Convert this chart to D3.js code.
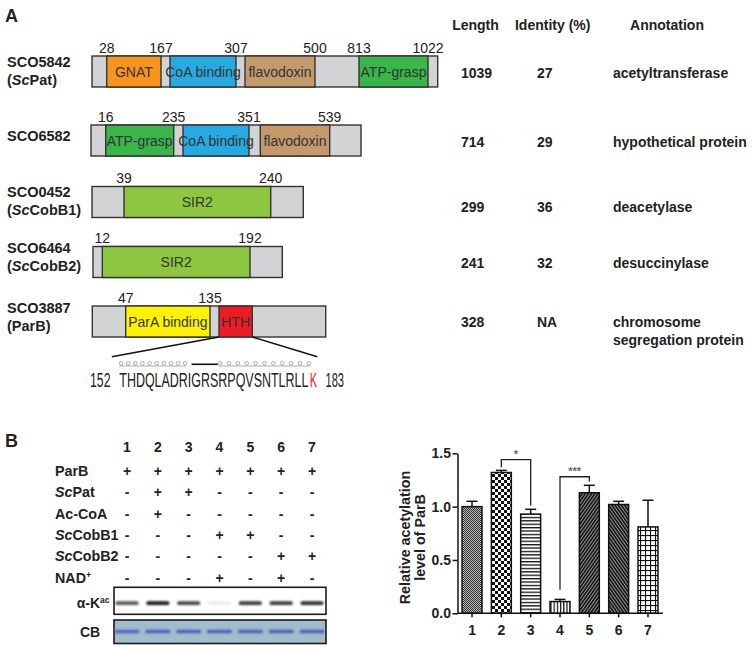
<!DOCTYPE html>
<html><head><meta charset="utf-8">
<script src="https://cdn.jsdelivr.net/npm/d3@7"></script>
<style>
body{margin:0;background:#fff;}
svg{display:block;font-family:Arial,"Liberation Sans",Helvetica,sans-serif;}
</style>
</head><body><svg id="c" width="756" height="647"></svg>
<script>
// ================= DATA =================
// Panel A – domain architecture
const proteinIds = ["SCO5842","SCO6582","SCO0452","SCO6464","SCO3887"];
const proteinAliases = ["ScPat", null, "ScCobB1", "ScCobB2", "ParB"];
const proteinLengths = [1039, 714, 299, 241, 328];
const proteinIdentity = ["27", "29", "36", "32", "NA"];
const proteinAnnotations = [["acetyltransferase"], ["hypothetical protein"], ["deacetylase"], ["desuccinylase"], ["chromosome", "segregation protein"]];
const domainNames  = [["GNAT","CoA binding","flavodoxin","ATP-grasp"], ["ATP-grasp","CoA binding","flavodoxin"], ["SIR2"], ["SIR2"], ["ParA binding","HTH"]];
const domainStarts = [[28,180,325,813], [16,250,368], [39], [12], [47,145]];
const domainEnds   = [[167,307,500,1022], [235,351,539], [240], [192], [135,190]];
const positionLabels = [[28,167,307,500,813,1022], [16,235,351,539], [39,240], [12,192], [47,135]];
const tableHeaders = ["Length", "Identity (%)", "Annotation"];
// HTH sequence of ParB
const seqFrom = 152, seqTo = 183;
const hthSequence = "THDQLADRIGRSRPQVSNTLRLLK";
const acetylatedResidue = 23;           // index of the red K
const helix1 = [0, 8], turn1 = [9, 11], helix2 = [12, 23];
const helix1Circles = 10, helix2Circles = 11;

// Panel B – in vitro assay
const laneLabels = ["1","2","3","4","5","6","7"];
const conditionNames = ["ParB","ScPat","Ac-CoA","ScCobB1","ScCobB2","NAD+"];
const conditionMatrix = [
  "+++++++",
  "-++----",
  "-+-----",
  "---++--",
  "-----++",
  "---+-+-"
];
const blotIntensity = [0.72, 1.0, 0.8, 0.07, 0.85, 0.85, 0.9];
const cbIntensity   = [0.8, 0.85, 0.85, 0.85, 0.85, 0.85, 0.85];
const barValues = [1.00, 1.32, 0.93, 0.11, 1.13, 1.02, 0.81];
const barErrors = [0.05, 0.02, 0.045, 0.02, 0.07, 0.03, 0.25];
const yTicks = [0, 0.5, 1.0, 1.5];
const yTickLabels = ["0.0","0.5","1.0","1.5"];
const sigFrom = [1, 3], sigTo = [2, 4], sigLabels = ["*","***"];
const sigTop = [1.44, 1.28], sigLegFrom = [1.37, 0.22], sigLegTo = [1.01, 1.235];

// ================= STYLE / LAYOUT =================
const domainColors = {"GNAT":"#f7941d","CoA binding":"#27aae1","flavodoxin":"#c49a6c","ATP-grasp":"#39b54a","SIR2":"#8dc63f","ParA binding":"#fff200","HTH":"#ed1c24"};
const greyFill = "#d1d3d4", boxStroke = "#333";
const boxTop = [56, 125, 186.5, 246.5, 306], boxH = 31;
const labelMid = [71, 136, 201, 257.5, 317.5];
const rightMid = [73.3, 141.7, 206.7, 263.3, 321.7];
// schematic (not-to-scale) pixel stops for each protein, matched to sorted aa breakpoints
const schematicPx = [
  [92,106.7,161,170,236,245,315,359,428,437.7],
  [91,105.7,173.7,183,249,260.3,329.7,361],
  [92,124,270.7,303.3],
  [93,102.3,250,282.3],
  [92.3,125.7,210,219,252.3,325.7]
];

const svg = d3.select("#c");
const defs = svg.append("defs");
defs.append("filter").attr("id","blur").attr("x","-50%").attr("y","-200%").attr("width","200%").attr("height","500%")
  .append("feGaussianBlur").attr("stdDeviation","1.3 0.9");

const txt = (g, x, y, s, size, weight, anchor) => g.append("text").attr("x", x).attr("y", y)
  .attr("font-size", size).attr("font-weight", weight || "normal").attr("text-anchor", anchor || "start")
  .attr("fill", "#222").text(s);

// condensed text: scale horizontally to a target width
function narrowText(g, x, y, s, width, color) {
  const t = g.append("text").attr("x", 0).attr("y", 0).attr("font-size", 20.5).attr("fill", color || "#222").text(s);
  const w = t.node().getComputedTextLength();
  t.attr("transform", `translate(${x},${y}) scale(${width / w},1)`);
  return t;
}

// ---------- Panel letters ----------
txt(svg, 5, 21.5, "A", 18, "bold");
txt(svg, 5, 446.5, "B", 18, "bold");

// ---------- Panel A ----------
const gA = svg.append("g");
txt(gA, 475.5, 30, tableHeaders[0], 14, "bold", "middle");
txt(gA, 552.7, 30, tableHeaders[1], 14, "bold", "middle");
txt(gA, 667, 30, tableHeaders[2], 14, "bold", "middle");

function addAlias(t, alias) {
  if (alias.startsWith("Sc")) {
    t.append("tspan").text("(");
    t.append("tspan").attr("font-style","italic").text("Sc");
    t.append("tspan").text(alias.slice(2) + ")");
  } else t.text("(" + alias + ")");
}

proteinIds.forEach((id, i) => {
  const g = gA.append("g");
  if (proteinAliases[i]) {
    txt(g, 7, labelMid[i] - 4.5, id, 14.5, "bold");
    const t = g.append("text").attr("x", 7).attr("y", labelMid[i] + 13.8)
      .attr("font-size", 14.5).attr("font-weight", "bold").attr("fill", "#222");
    addAlias(t, proteinAliases[i]);
  } else {
    txt(g, 7, labelMid[i] + 5, id, 14.5, "bold");
  }
  const stops = [0];
  domainStarts[i].forEach((s, k) => { stops.push(s, domainEnds[i][k]); });
  stops.push(proteinLengths[i]);
  const xs = d3.scaleLinear().domain(stops).range(schematicPx[i]);
  const y0 = boxTop[i];
  g.append("rect").attr("x", xs(0)).attr("y", y0).attr("width", xs(proteinLengths[i]) - xs(0)).attr("height", boxH)
    .attr("fill", greyFill).attr("stroke", boxStroke).attr("stroke-width", 1.4);
  domainNames[i].forEach((name, k) => {
    const a = xs(domainStarts[i][k]), b = xs(domainEnds[i][k]);
    g.append("rect").attr("x", a).attr("y", y0).attr("width", b - a).attr("height", boxH)
      .attr("fill", domainColors[name]).attr("stroke", boxStroke).attr("stroke-width", 1.4);
  });
  domainNames[i].forEach((name, k) => {
    const a = xs(domainStarts[i][k]), b = xs(domainEnds[i][k]);
    g.append("text").attr("x", (a + b) / 2).attr("y", y0 + boxH / 2 + 5).attr("text-anchor", "middle")
      .attr("font-size", 14).attr("fill", "#333").text(name);
  });
  positionLabels[i].forEach(p => {
    g.append("text").attr("x", xs(p)).attr("y", y0 - 3.5).attr("text-anchor", "middle")
      .attr("font-size", 14).attr("fill", "#222").text(p);
  });
  txt(g, 461, rightMid[i] + 5, String(proteinLengths[i]), 14, "bold");
  txt(g, 537, rightMid[i] + 5, proteinIdentity[i], 14, "bold");
  proteinAnnotations[i].forEach((line, k) => txt(g, 613, rightMid[i] + 5 + k * 18.3, line, 14, "bold"));

  if (i === 4) {
    const seqX = d3.scaleBand().domain(d3.range(hthSequence.length)).range([119.3, 317.3]);
    const hIdx = domainNames[i].indexOf("HTH");
    const hA = xs(domainStarts[i][hIdx]), hB = xs(domainEnds[i][hIdx]);
    const yb = y0 + boxH;
    g.append("line").attr("x1", hA).attr("y1", yb).attr("x2", seqX(0) - 7.5).attr("y2", 356.7).attr("stroke", "#111").attr("stroke-width", 1.5);
    g.append("line").attr("x1", hB).attr("y1", yb).attr("x2", seqX(hthSequence.length - 1) + seqX.bandwidth()).attr("y2", 356.7).attr("stroke", "#111").attr("stroke-width", 1.5);
    const helix = (range, n) => {
      const a = seqX(range[0]), b = seqX(range[1]) + seqX.bandwidth() - 8;
      g.append("line").attr("x1", a).attr("x2", b + 1).attr("y1", 366).attr("y2", 366).attr("stroke", "#999").attr("stroke-width", 0.8);
      const cx = d3.scalePoint().domain(d3.range(n)).range([a + 1.8, b - 0.5]);
      d3.range(n).forEach(j => g.append("circle").attr("cx", cx(j)).attr("cy", 363.3).attr("r", 1.8)
        .attr("fill", "none").attr("stroke", "#888").attr("stroke-width", 0.7));
    };
    helix(helix1, helix1Circles);
    helix(helix2, helix2Circles);
    g.append("line").attr("x1", seqX(turn1[0]) - 2).attr("x2", seqX(turn1[1]) + seqX.bandwidth() - 0.5)
      .attr("y1", 364.3).attr("y2", 364.3).attr("stroke", "#111").attr("stroke-width", 1.6);
    const plain = hthSequence.slice(0, acetylatedResidue);
    narrowText(g, seqX(0), 387, plain, seqX(acetylatedResidue) - seqX(0) - 0.5);
    narrowText(g, seqX(acetylatedResidue) + 0.6, 387, hthSequence[acetylatedResidue], seqX.bandwidth() - 0.8, "#ed1c24");
    narrowText(g, 90, 387, String(seqFrom), 20.5);
    narrowText(g, 325.5, 387, String(seqTo), 18.5);
  }
});

// ---------- Panel B: condition table ----------
const gB = svg.append("g");
const lane = d3.scalePoint().domain(laneLabels).range([127, 312]);
const row = d3.scalePoint().domain(conditionNames).range([470.7, 577.7]);
laneLabels.forEach(l => txt(gB, lane(l), 452, l, 14, "bold", "middle"));
conditionNames.forEach((c, r) => {
  const t = gB.append("text").attr("x", 55).attr("y", row(c) + 5).attr("font-size", 14.3)
    .attr("font-weight", "bold").attr("fill", "#222");
  if (c.startsWith("Sc")) {
    t.append("tspan").attr("font-style", "italic").text("Sc");
    t.append("tspan").text(c.slice(2));
  } else if (c.endsWith("+")) {
    t.append("tspan").text(c.slice(0, -1));
    t.append("tspan").attr("font-size", 9).attr("dy", -5).text("+");
  } else t.text(c);
  laneLabels.forEach((l, j) => {
    const s = conditionMatrix[r][j];
    txt(gB, lane(l), row(c) + 5, s, 14, "bold", "middle");
  });
});

const blotX = 114, blotW = 212;
gB.append("rect").attr("x", blotX).attr("y", 587.3).attr("width", blotW).attr("height", 27)
  .attr("fill", "#fff").attr("stroke", "#1a1a1a").attr("stroke-width", 1.6);
laneLabels.forEach((l, j) => {
  gB.append("rect").attr("x", lane(l) - 11.5).attr("y", 601.2).attr("width", 23).attr("height", 3.8)
    .attr("rx", 1.5).attr("fill", "#151515").attr("opacity", blotIntensity[j]).attr("filter", "url(#blur)");
});
const ka = gB.append("text").attr("x", 76.7).attr("y", 607.5).attr("font-size", 14).attr("font-weight", "bold").attr("fill", "#222");
ka.append("tspan").text("α-K");
ka.append("tspan").attr("font-size", 8.5).attr("dy", -5).text("ac");
gB.append("rect").attr("x", blotX).attr("y", 620).attr("width", blotW).attr("height", 23.5)
  .attr("fill", "#a3bccb").attr("stroke", "#1a1a1a").attr("stroke-width", 1.6);
laneLabels.forEach((l, j) => {
  gB.append("rect").attr("x", lane(l) - 12.5).attr("y", 629.8).attr("width", 25).attr("height", 3.4)
    .attr("rx", 1.5).attr("fill", "#3a4fc2").attr("opacity", cbIntensity[j]).attr("filter", "url(#blur)");
});
txt(gB, 80, 637, "CB", 14, "bold");

// ---------- Panel B: bar chart ----------
function pat(id, w, h, build, transform) {
  const p = defs.append("pattern").attr("id", id).attr("patternUnits", "userSpaceOnUse").attr("width", w).attr("height", h);
  if (transform) p.attr("patternTransform", transform);
  p.append("rect").attr("width", w).attr("height", h).attr("fill", "#fff");
  build(p);
}
pat("p1", 2, 2, p => { p.append("rect").attr("width", 1).attr("height", 1).attr("fill", "#333"); p.append("rect").attr("x", 1).attr("y", 1).attr("width", 1).attr("height", 1).attr("fill", "#333"); p.select("rect").attr("fill", "#bbb"); p.append("rect").attr("width", 1).attr("height", 1).attr("fill", "#333"); });
pat("p2", 6, 6, p => { p.append("rect").attr("width", 3).attr("height", 3).attr("fill", "#111"); p.append("rect").attr("x", 3).attr("y", 3).attr("width", 3).attr("height", 3).attr("fill", "#111"); });
pat("p3", 4, 3.4, p => p.append("rect").attr("width", 4).attr("height", 1.3).attr("fill", "#111"));
pat("p4", 3.2, 4, p => p.append("rect").attr("width", 1.2).attr("height", 4).attr("fill", "#111"));
pat("p5", 2.6, 4, p => { p.select("rect").attr("fill", "#bbb"); p.append("rect").attr("width", 1.9).attr("height", 4).attr("fill", "#1a1a1a"); }, "rotate(35)");
pat("p6", 2.6, 4, p => { p.select("rect").attr("fill", "#bbb"); p.append("rect").attr("width", 1.9).attr("height", 4).attr("fill", "#1a1a1a"); }, "rotate(-35)");
pat("p7", 5, 5, p => { p.append("rect").attr("width", 5).attr("height", 1.1).attr("fill", "#111"); p.append("rect").attr("width", 1.1).attr("height", 5).attr("fill", "#111"); });
const barPatterns = ["p1","p2","p3","p4","p5","p6","p7"];

const gC = svg.append("g");
const xb = d3.scaleBand().domain(d3.range(barValues.length)).range([457.5, 662.5]).paddingInner(0.32).paddingOuter(0.155);
const yb = d3.scaleLinear().domain([0, 1.5]).range([613.3, 453.3]);

barValues.forEach((v, i) => {
  gC.append("rect").attr("x", xb(i)).attr("y", yb(v)).attr("width", xb.bandwidth()).attr("height", yb(0) - yb(v))
    .attr("fill", `url(#${barPatterns[i]})`).attr("stroke", "#111").attr("stroke-width", 1.5);
  const cx = xb(i) + xb.bandwidth() / 2;
  gC.append("line").attr("x1", cx).attr("x2", cx).attr("y1", yb(v)).attr("y2", yb(v + barErrors[i])).attr("stroke", "#111").attr("stroke-width", 1.5);
  gC.append("line").attr("x1", cx - 5.5).attr("x2", cx + 5.5).attr("y1", yb(v + barErrors[i])).attr("y2", yb(v + barErrors[i])).attr("stroke", "#111").attr("stroke-width", 1.5);
});

const yAxis = gC.append("g").attr("transform", "translate(457.5,0)")
  .call(d3.axisLeft(yb).tickValues(yTicks).tickFormat((d, k) => yTickLabels[k]).tickSize(5).tickSizeOuter(0).tickPadding(1.5));
const xAxis = gC.append("g").attr("transform", "translate(0,613.3)")
  .call(d3.axisBottom(xb).tickFormat(i => laneLabels[i]).tickSize(4).tickSizeOuter(0).tickPadding(7.5));
xAxis.select(".domain").attr("d", "M457.5,0H663");
[yAxis, xAxis].forEach(a => {
  a.selectAll("path,line").attr("stroke", "#111").attr("stroke-width", 1.5);
  a.selectAll("text").attr("font-size", 14).attr("font-weight", "bold").attr("fill", "#222")
    .attr("font-family", "Arial,'Liberation Sans',sans-serif");
});

sigLabels.forEach((s, k) => {
  const xa = xb(sigFrom[k]) + xb.bandwidth() / 2, xz = xb(sigTo[k]) + xb.bandwidth() / 2;
  gC.append("path").attr("d", `M${xa},${yb(sigLegFrom[k])}V${yb(sigTop[k])}H${xz}V${yb(sigLegTo[k])}`)
    .attr("fill", "none").attr("stroke", "#222").attr("stroke-width", 1.3);
  gC.append("text").attr("x", (xa + xz) / 2).attr("y", yb(sigTop[k]) - 1.5).attr("text-anchor", "middle")
    .attr("font-size", 11).attr("font-weight", "bold").attr("fill", "#666").text(s);
});

const yl = gC.append("text").attr("transform", "translate(409.5,537.5) rotate(-90)").attr("text-anchor", "middle")
  .attr("font-size", 14.3).attr("font-weight", "bold").attr("fill", "#222");
yl.append("tspan").attr("x", 0).attr("y", 0).text("Relative acetylation");
yl.append("tspan").attr("x", 0).attr("y", 15).text("level of ParB");
</script>
</body></html>
